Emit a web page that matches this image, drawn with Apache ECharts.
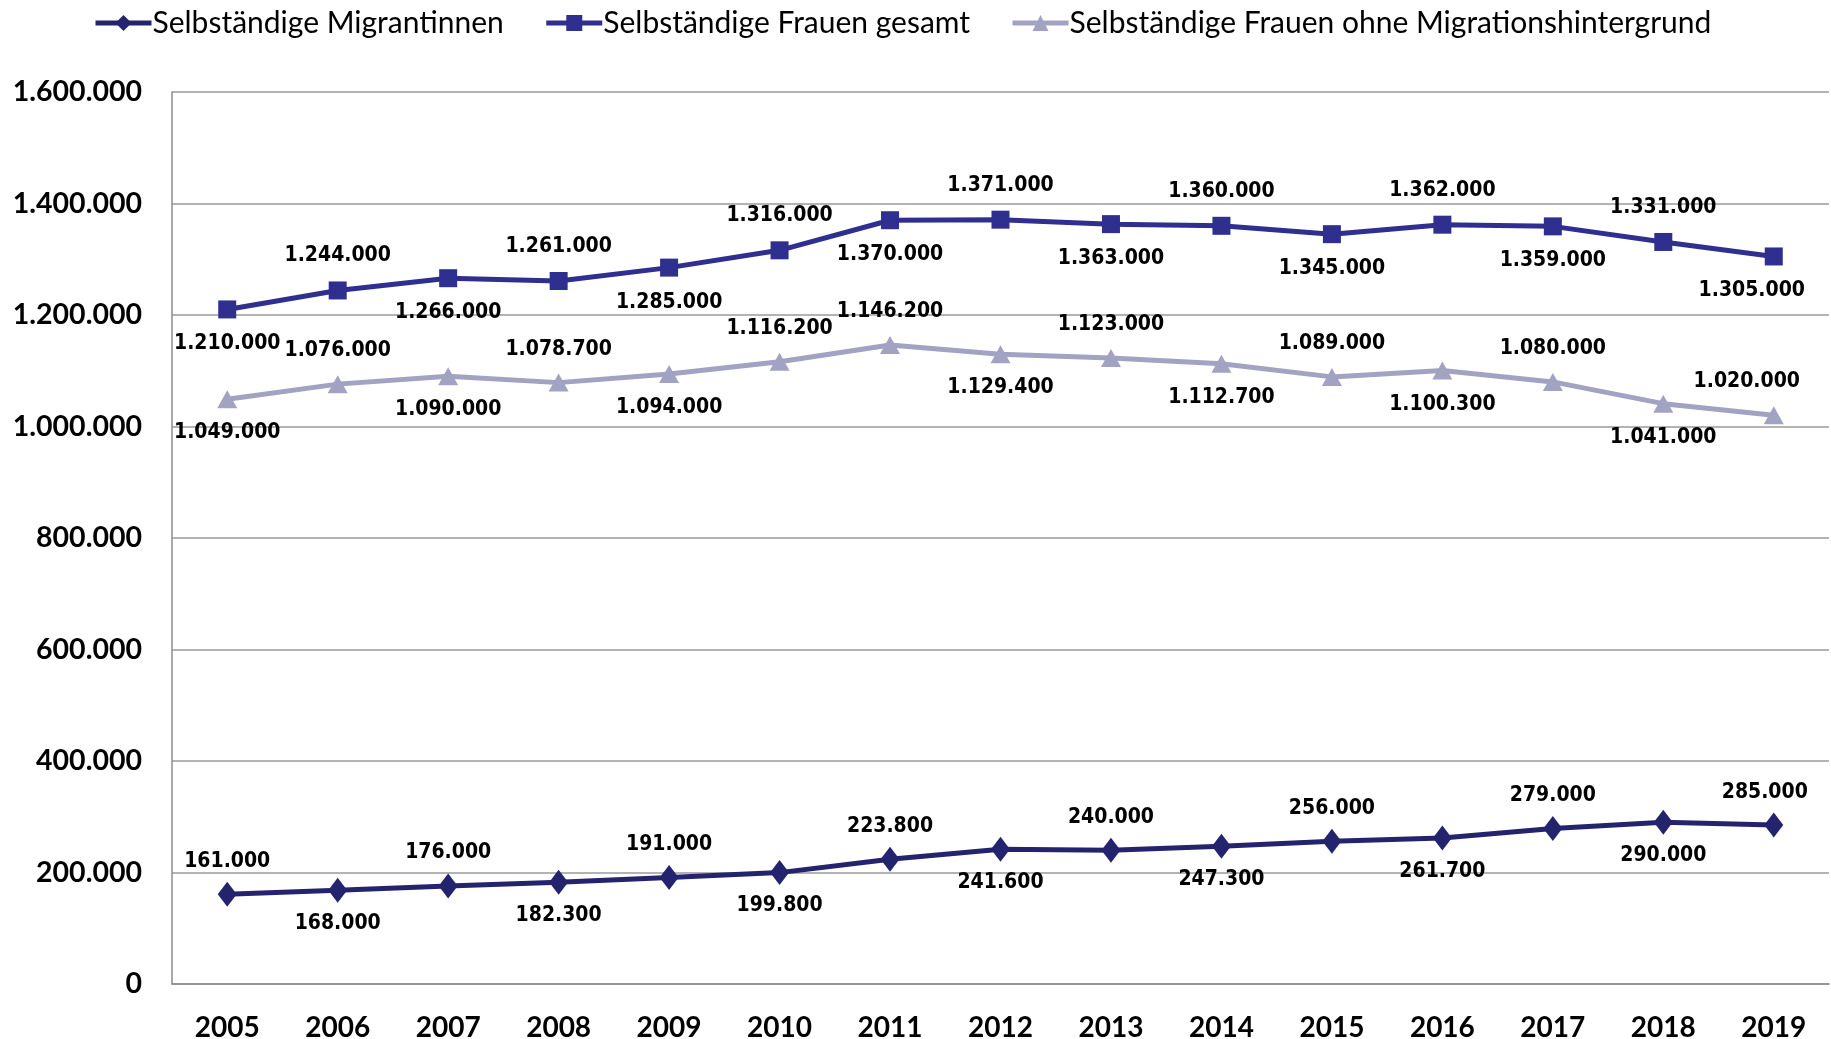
<!DOCTYPE html>
<html><head><meta charset="utf-8">
<script src="https://cdn.jsdelivr.net/npm/echarts@6/dist/echarts.min.js"></script>
<style>html,body{margin:0;padding:0;background:#fff}#c{width:1831px;height:1039px}</style>
</head><body><div id="c"></div>
<script>
const years = ['2005','2006','2007','2008','2009','2010','2011','2012','2013','2014','2015','2016','2017','2018','2019'];
const migrantinnen = [161000,168000,176000,182300,191000,199800,223800,241600,240000,247300,256000,261700,279000,290000,285000];
const gesamt = [1210000,1244000,1266000,1261000,1285000,1316000,1370000,1371000,1363000,1360000,1345000,1362000,1359000,1331000,1305000];
const ohne = [1049000,1076000,1090000,1078700,1094000,1116200,1146200,1129400,1123000,1112700,1089000,1100300,1080000,1041000,1020000];
const seriesNames = ['Selbständige Migrantinnen','Selbständige Frauen gesamt','Selbständige Frauen ohne Migrationshintergrund'];

function fmt(v){ return String(Math.round(v)).replace(/\B(?=(\d{3})+(?!\d))/g,'.'); }

const place = {
  mig: i => (i % 2 === 0 ? 'top' : 'bottom'),
  ges: i => (i % 2 === 0 ? 'bottom' : 'top'),
  ohne: i => (i < 6 ? (i % 2 === 0 ? 'bottom' : 'top') : (i % 2 === 0 ? 'top' : 'bottom'))
};
const lastShift = {mig:-9, ges:-22, ohne:-27};
const labelFont = {fontFamily:"'DejaVu Sans Condensed','DejaVu Sans',sans-serif", fontWeight:'bold', fontSize:21, color:'#000'};

function build(arr, pf, shift){
  return arr.map((v,i)=>{
    const lab = {position:pf(i)};
    if (i === arr.length - 1) lab.offset = [shift, 0];
    return {value:v, label:lab};
  });
}

const chart = echarts.init(document.getElementById('c'));
chart.setOption({
  animation:false,
  backgroundColor:'#fff',
  legend:{
    top:3, left:88, itemWidth:56, itemHeight:20, itemGap:40,
    lineStyle:{width:5},
    textStyle:{fontFamily:'Lato, sans-serif', fontSize:30, color:'#000', padding:[0,0,0,-4]},
    data:seriesNames
  },
  grid:{left:172, right:2, top:92, bottom:55, containLabel:false, outerBoundsMode:'none'},
  xAxis:{
    type:'category', data:years, boundaryGap:true,
    axisLine:{lineStyle:{color:'#8c8c8c', width:1.5}},
    axisTick:{show:false},
    axisLabel:{fontFamily:'Lato, sans-serif', fontWeight:'bold', fontSize:28, color:'#000', margin:30}
  },
  yAxis:{
    type:'value', min:0, max:1600000, interval:200000,
    axisLine:{show:true, lineStyle:{color:'#8c8c8c', width:1.5}},
    axisTick:{show:false},
    splitLine:{lineStyle:{color:'#9a9a9a', width:1.5}},
    axisLabel:{fontFamily:'Lato, sans-serif', fontWeight:'bold', fontSize:28.5, color:'#000', margin:30, formatter:fmt}
  },
  series:[
    {name:seriesNames[0], type:'line', data:build(migrantinnen, place.mig, lastShift.mig), symbol:'diamond', symbolSize:[19,25],
     lineStyle:{color:'#24246e', width:5}, itemStyle:{color:'#24246e'},
     label:Object.assign({show:true, distance:10, formatter:p=>fmt(p.value)}, labelFont)},
    {name:seriesNames[1], type:'line', data:build(gesamt, place.ges, lastShift.ges), symbol:'rect', symbolSize:18,
     lineStyle:{color:'#2e2f8f', width:5}, itemStyle:{color:'#2e2f8f'},
     label:Object.assign({show:true, distance:15, formatter:p=>fmt(p.value)}, labelFont)},
    {name:seriesNames[2], type:'line', data:build(ohne, place.ohne, lastShift.ohne), symbol:'triangle', symbolSize:[20,18],
     lineStyle:{color:'#a2a2c2', width:5}, itemStyle:{color:'#a2a2c2'},
     label:Object.assign({show:true, distance:14, formatter:p=>fmt(p.value)}, labelFont)}
  ]
});
</script></body></html>
